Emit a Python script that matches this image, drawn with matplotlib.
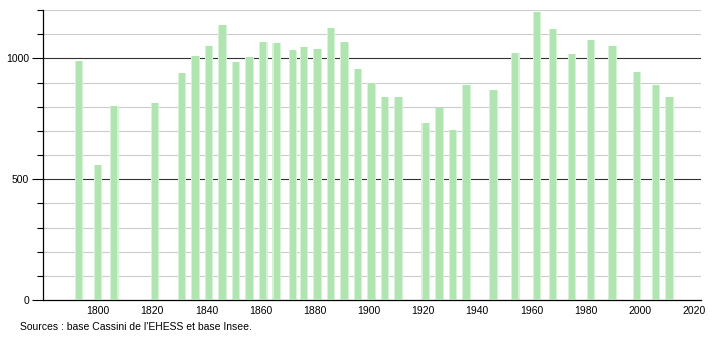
import matplotlib
matplotlib.use('Agg')
import matplotlib.pyplot as plt
import numpy as np

# années de recensement et population
annees = [1793, 1800, 1806, 1821, 1831, 1836, 1841, 1846, 1851, 1856,
          1861, 1866, 1872, 1876, 1881, 1886, 1891, 1896, 1901, 1906,
          1911, 1921, 1926, 1931, 1936, 1946, 1954, 1962, 1968, 1975,
          1982, 1990, 1999, 2006, 2011]
population = [987, 559, 804, 816, 938, 1008, 1051, 1137, 983, 1004,
              1066, 1065, 1033, 1048, 1037, 1127, 1066, 954, 898, 838,
              842, 733, 793, 705, 891, 867, 1021, 1192, 1123, 1017,
              1075, 1051, 942, 891, 842]
xticks = [1800, 1820, 1840, 1860, 1880, 1900, 1920, 1940, 1960, 1980, 2000, 2020]
yticks = [0, 500, 1000]
source = "Sources : base Cassini de l'EHESS et base Insee."

plt.rcParams['font.family'] = ['Liberation Sans', 'DejaVu Sans']

fig = plt.figure(figsize=(7.1, 3.4), dpi=100)
ax = fig.add_axes([43/710, 40/340, (701-43)/710, 290/340])

# grille
for v in range(100, 1300, 100):
    if v % 500 == 0:
        ax.axhline(v, color='#333333', lw=0.8, zorder=1)
    else:
        ax.axhline(v, color='#cccccc', lw=0.8, zorder=1)

# barres (effet flou)
ax.bar(annees, population, width=3.2, color='#d8f2d8', zorder=2)
ax.bar(annees, population, width=2.4, color='#b0e4b0', zorder=3)

ax.set_xlim(1779.7, 2022.6)
ax.set_ylim(0, 1200)
ax.set_xticks(xticks)
ax.set_yticks(yticks)
ax.set_yticks(range(0, 1300, 100), minor=True)
ax.tick_params(axis='x', length=0, labelsize=7.5, pad=4)
ax.tick_params(axis='y', which='major', length=8, labelsize=7.5, pad=2, width=0.8)
ax.tick_params(axis='y', which='minor', length=4, width=0.8)
for s in ['top', 'right']:
    ax.spines[s].set_visible(False)
ax.spines['left'].set_linewidth(0.9)
ax.spines['bottom'].set_linewidth(0.9)

fig.text(20/710, 1 - 327/340, source, fontsize=7.5, va='center', ha='left')

fig.savefig('out.png', dpi=100)
